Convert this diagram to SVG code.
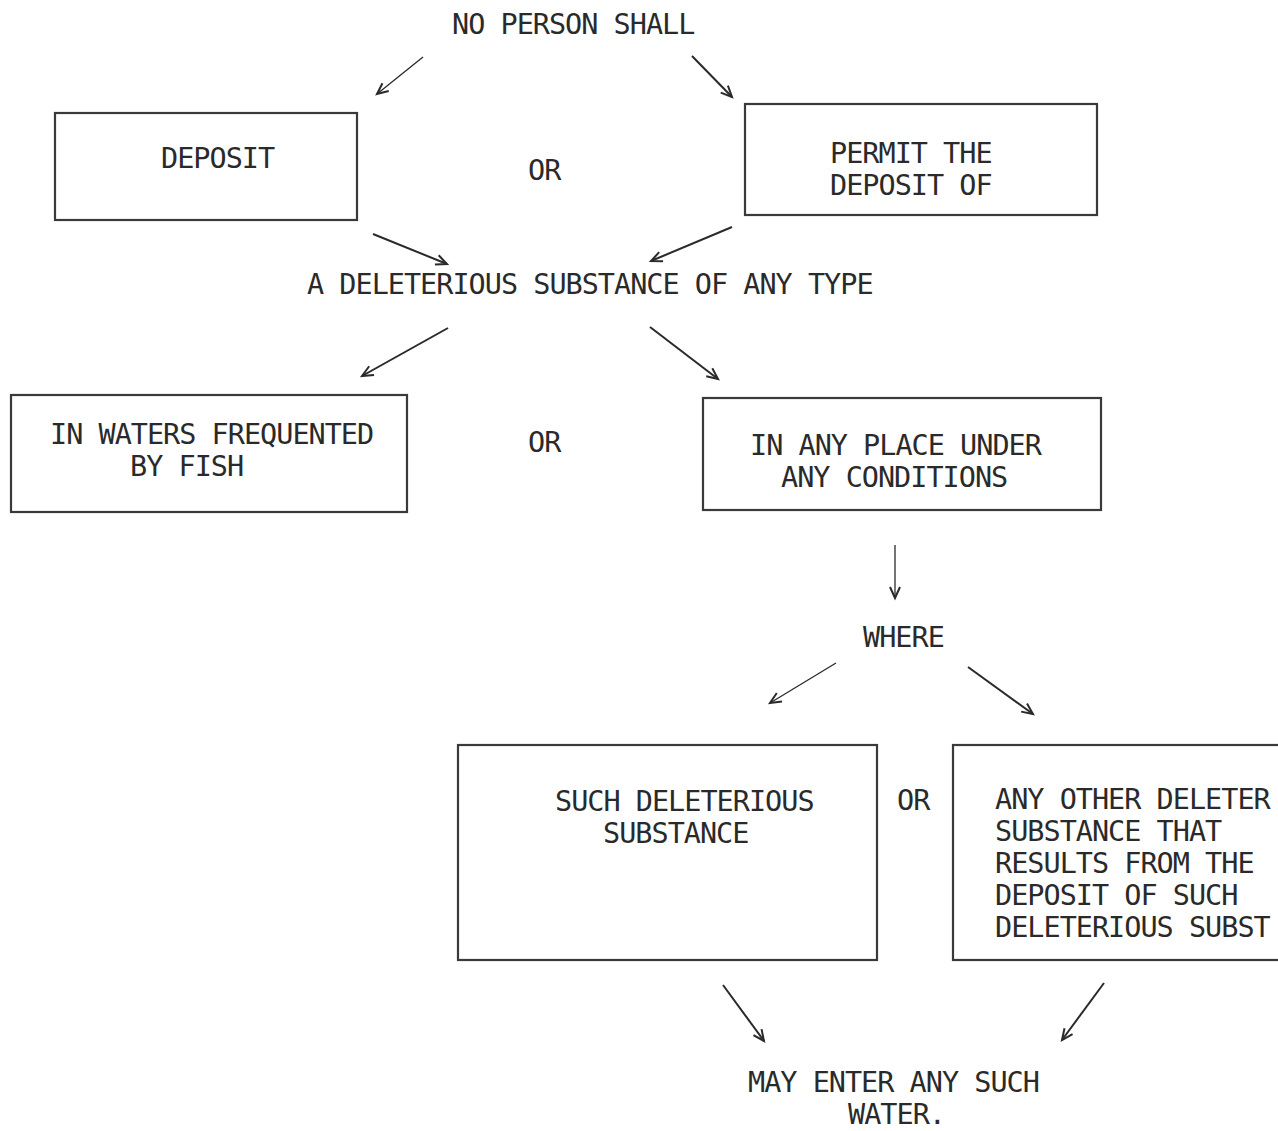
<svg xmlns="http://www.w3.org/2000/svg" width="1278" height="1131" viewBox="0 0 1278 1131">
<style>
text{font-family:"DejaVu Sans Mono","Liberation Mono",monospace;font-size:28.5px;letter-spacing:-1px;fill:#2a2a2a}
.box{fill:none;stroke:#3a3a3a;stroke-width:2.2}
.arr{fill:none;stroke:#2a2a2a;stroke-width:2;marker-end:url(#ah)}
.thin{stroke-width:1.3}
</style>
<defs>
<marker id="ah" markerUnits="userSpaceOnUse" markerWidth="16" markerHeight="16" viewBox="-12 -8 14 16" refX="0" refY="0" orient="auto">
<path d="M-11,-5 L0,0 L-11,5" fill="none" stroke="#2a2a2a" stroke-width="2"/>
</marker>
</defs>
<rect width="1278" height="1131" fill="#ffffff"/>
<g id="no-person"><text x="452" y="34">NO PERSON SHALL</text></g>
<g id="deposit"><rect class="box" x="55" y="113" width="302" height="107"/><text x="161" y="168">DEPOSIT</text></g>
<g id="or1"><text x="528" y="180">OR</text></g>
<g id="permit"><rect class="box" x="745" y="104" width="352" height="111"/><text x="830" y="163">PERMIT THE</text><text x="830" y="195">DEPOSIT OF</text></g>
<g id="substance"><text x="307" y="294">A DELETERIOUS SUBSTANCE OF ANY TYPE</text></g>
<g id="waters"><rect class="box" x="11" y="395" width="396" height="117"/><text x="50" y="444">IN WATERS FREQUENTED</text><text x="130" y="476">BY FISH</text></g>
<g id="or2"><text x="528" y="452">OR</text></g>
<g id="anyplace"><rect class="box" x="703" y="398" width="398" height="112"/><text x="750" y="455">IN ANY PLACE UNDER</text><text x="781" y="487">ANY CONDITIONS</text></g>
<g id="where"><text x="863" y="647">WHERE</text></g>
<g id="such"><rect class="box" x="458" y="745" width="419" height="215"/><text x="555" y="811">SUCH DELETERIOUS</text><text x="603" y="843">SUBSTANCE</text></g>
<g id="or3"><text x="897" y="810">OR</text></g>
<g id="other"><rect class="box" x="953" y="745" width="340" height="215"/><text x="995" y="809">ANY OTHER DELETER</text><text x="995" y="841">SUBSTANCE THAT</text><text x="995" y="873">RESULTS FROM THE</text><text x="995" y="905">DEPOSIT OF SUCH</text><text x="995" y="937">DELETERIOUS SUBST</text></g>
<g id="enter"><text x="748" y="1092">MAY ENTER ANY SUCH</text><text x="848" y="1124">WATER.</text></g>
<g id="connectors">
<line class="arr thin" x1="423" y1="57" x2="377" y2="94"/>
<line class="arr" x1="692" y1="56" x2="732" y2="97"/>
<line class="arr" x1="373" y1="234" x2="447" y2="264"/>
<line class="arr" x1="732" y1="227" x2="651" y2="261"/>
<line class="arr" x1="448" y1="328" x2="362" y2="376"/>
<line class="arr" x1="650" y1="327" x2="718" y2="379"/>
<line class="arr thin" x1="895" y1="545" x2="895" y2="598"/>
<line class="arr thin" x1="836" y1="663" x2="770" y2="703"/>
<line class="arr" x1="968" y1="667" x2="1033" y2="714"/>
<line class="arr" x1="723" y1="985" x2="764" y2="1041"/>
<line class="arr" x1="1104" y1="983" x2="1062" y2="1040"/>
</g>
</svg>
